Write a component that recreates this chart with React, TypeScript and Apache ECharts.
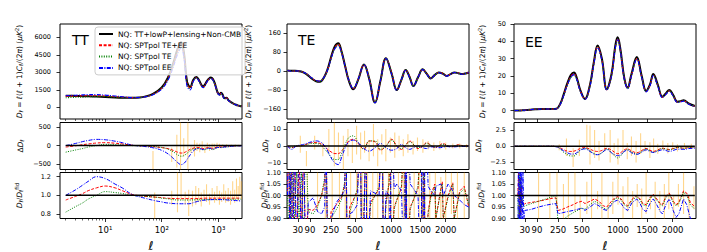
import { useEffect, useRef } from "react";
import * as echarts from "echarts";

// ---------------- legend ----------------
const legendNames = [
  "NQ: TT+lowP+lensing+Non-CMB",
  "NQ: SPTpol TE+EE",
  "NQ: SPTpol TE",
  "NQ: SPTpol EE",
];

// ---------------- TT ----------------
const ellTT = [2,3,4,5,7,10,15,20,30,40,50,70,100,130,160,190,220,250,280,320,360,410,460,500,540,580,630,680,740,800,870,920,980,1050,1120,1180,1250,1320,1400,1520,1600,1700,1850,2000,2200,2400,2600];
const ttFid = [1000,980,960,950,920,890,850,830,820,850,920,1150,1700,2600,3800,5000,5600,4500,2200,1750,2350,2600,2300,1950,1800,1950,2250,2450,2550,2450,2050,1650,1250,1100,1250,1150,850,780,820,600,520,420,320,250,170,120,90];
const ttDeltaRed = [-40,-5,25,45,70,80,65,45,10,-5,-15,-30,-55,-85,-130,-180,-205,-190,-150,-100,-70,-55,-55,-65,-80,-75,-60,-55,-65,-75,-60,-45,-35,-35,-38,-35,-26,-23,-25,-18,-16,-13,-10,-8,-5,-4,-3];
const ttDeltaGreen = [-180,-120,-80,-40,0,35,25,15,0,-8,-10,-25,-50,-100,-170,-250,-290,-270,-210,-140,-95,-80,-85,-100,-115,-110,-90,-80,-95,-110,-90,-70,-52,-50,-55,-50,-38,-35,-37,-27,-23,-18,-13,-10,-7,-5,-4];
const ttDeltaBlue = [0,60,110,140,170,160,120,80,15,-10,-25,-60,-130,-230,-350,-460,-520,-480,-380,-250,-150,-90,-80,-90,-110,-100,-80,-70,-80,-100,-80,-60,-50,-50,-55,-50,-40,-35,-35,-30,-25,-20,-15,-12,-10,-8,-6];

const ellTTRatio = [2,3,4,5,7,10,15,20,30,50,80,100,120,200,300,400,600,1000,1500,2500];
const ttRatioRed = [0.95,0.99,1.02,1.05,1.08,1.1,1.08,1.05,1.01,0.99,0.98,0.975,0.97,0.965,0.965,0.965,0.97,0.97,0.97,0.97];
const ttRatioGreen = [0.82,0.88,0.92,0.96,1.0,1.04,1.03,1.02,1.0,0.99,0.98,0.97,0.965,0.95,0.95,0.952,0.955,0.955,0.958,0.96];
const ttRatioBlue = [1.0,1.06,1.11,1.15,1.2,1.18,1.12,1.08,1.01,0.97,0.94,0.93,0.92,0.91,0.91,0.93,0.95,0.955,0.95,0.94];

const ttMidBars = [[70,-650,-150],[150,-450,-50],[185,-600,300],[215,-660,700],[245,-300,200],[290,-660,700],[330,-200,-20],[380,-300,150],[420,-150,80],[470,-180,60],[520,-120,120],[580,-200,0],[640,-80,80],[700,-150,40],[780,-120,60],[850,-100,50],[950,-80,80],[1050,-50,50],[1200,-60,40],[1400,-40,40],[1700,-30,30],[2000,-30,30],[2300,-20,20]];
const ttBotBars = [[75,0.7,1.03],[150,0.9,1.05],[190,0.82,1.3],[220,0.95,1.3],[260,0.9,1.04],[300,0.78,1.06],[350,0.88,1.05],[400,0.9,1.1],[450,0.93,1.08],[500,0.88,1.03],[560,0.94,1.06],[620,0.93,1.12],[700,0.9,1.02],[780,0.95,1.08],[860,0.92,1.04],[950,0.94,1.1],[1050,0.9,1.05],[1150,0.93,1.03],[1250,0.95,1.12],[1350,0.92,1.05],[1500,0.93,1.08],[1650,0.9,1.05],[1800,0.95,1.15],[1950,0.92,1.06],[2100,0.97,1.18],[2250,0.94,1.1],[2400,1.0,1.2],[2550,0.96,1.15]];

// ---------------- TE ----------------
const ellTE = [2,10,20,30,50,70,100,130,158,190,220,250,285,318,350,390,430,481,540,613,680,762,840,922,1010,1092,1170,1241,1310,1376,1460,1547,1620,1700,1780,1858,1940,2021,2100,2186,2270,2347,2450,2500];
const teFid = [3,2,2,1,-3,-12,-30,-42,-44,-25,10,60,105,118,85,20,-40,-76,-35,29,-30,-132,-40,55,-10,-79,-35,5,-25,-62,-25,8,-10,-30,-15,-5,-10,-20,-12,-5,-8,-12,-8,-5];
const teDeltaRed = [0,-1,-0.3,0,0.3,1,2,2,1.5,0,-2,-3.5,-4.5,-4.5,-3,0,3,4,1.5,-2,3,2.5,-2.5,0,4,0,-2,0.5,3,1,-1.5,0,2,0.5,-1,0,1.5,0.5,-0.5,0,0.8,0.3,0,0.3];
const teDeltaGreen = [0,-0.8,0,0,0.2,0.7,1.5,1.5,0.8,-1.5,-4,-6.5,-8,-8,-4.5,1,5,6,2,-2,3,3,-2,0,3.5,0,-1.5,0.5,2.5,1,-1,0,1.5,0.5,-0.8,0,1,0.3,-0.3,0,0.5,0.2,0,0.2];
const teDeltaBlue = [0,-2,-0.5,0.3,0.8,1.5,2.5,3,2.5,0.5,-3,-7,-10,-11,-7,-1,2.5,3.5,2,-1.5,-3,-1,1.5,-1,-2.5,-1.5,1,-1,-2,-1,0,-1,-1.5,-0.5,-0.5,-1,-0.8,-0.3,-0.5,-0.5,-0.3,-0.3,-0.2,-0.2];

const ellTERatio = [2,4,6,9,13,18,25,35,45,55,65,80,110,140,170,195,205,222,250,300,350,385,398,412,440,480,530,565,585,615,640,650,700,762,820,865,885,922,970,990,1000,1050,1092,1170,1220,1240,1250,1262,1320,1376,1460,1515,1535,1575,1590,1650,1700,1780,1800,1900,1930,1950,2050,2150,2180,2300,2400,2500];
const teRatioRed = [1.0,1.3,0.7,1.25,0.75,1.2,0.8,1.15,0.85,1.2,0.8,0.94,0.935,0.96,1.0,1.06,1.3,0.7,0.93,0.96,0.99,1.05,1.3,0.7,0.95,0.98,1.02,1.3,0.7,0.96,1.3,0.7,0.97,1.0,1.03,1.3,0.7,0.97,1.05,1.3,0.7,0.95,0.98,1.03,1.3,0.7,1.3,0.7,0.95,0.98,1.03,1.3,0.7,1.3,0.7,0.93,1.0,1.05,0.9,1.03,1.06,0.9,1.0,1.055,0.9,1.02,1.04,0.95];
const teRatioGreen = [1.0,0.8,1.2,0.85,1.15,0.9,1.1,0.9,1.1,0.7,1.3,0.93,0.92,0.95,1.0,1.08,1.3,0.7,0.9,0.94,0.98,1.06,1.3,0.7,0.93,0.97,1.03,1.3,0.7,0.95,1.3,0.7,0.96,1.0,1.04,1.3,0.7,0.96,1.06,1.3,0.7,0.94,0.98,1.04,1.3,0.7,1.3,0.7,0.94,0.98,1.04,1.3,0.7,1.3,0.7,0.92,0.99,1.04,0.9,1.02,1.05,0.9,0.99,1.05,0.9,1.01,1.03,0.96];
const teRatioBlue = [1.0,1.4,0.6,1.4,0.6,1.3,0.7,1.3,0.7,1.3,0.7,0.97,0.99,0.93,0.92,0.95,1.3,0.6,0.9,0.97,1.0,1.02,1.4,0.6,0.92,0.93,0.96,1.4,0.6,0.9,1.4,0.6,1.02,1.01,1.0,1.4,0.6,1.02,1.0,0.6,1.4,1.03,1.05,1.02,0.6,1.4,0.6,1.4,1.05,1.03,1.0,0.6,1.4,0.6,1.4,1.04,1.02,1.0,1.04,1.05,1.03,1.0,1.05,1.02,1.0,0.98,0.96,0.95];

const teMidBars = [[40,-4,6],[70,-12,-3],[120,-2,6],[180,-6,2],[230,-4,10],[280,-12,14],[320,-8,8],[370,-14,6],[420,-6,10],[470,-10,4],[520,-5,12],[570,-8,8],[620,-4,9],[680,-9,3],[740,-6,13],[800,-12,4],[860,-5,7],[920,-9,10],[990,-4,5],[1060,-7,8],[1130,-3,6],[1200,-6,4],[1280,-4,7],[1370,-5,3],[1450,-3,5],[1550,-4,4],[1650,-2,3],[1760,-3,2],[1880,-2,3],[2000,-2,2],[2150,-1.5,1.5],[2300,-1.5,1.5],[2450,-1,1]];
const teBotBars = [[30,0.85,1.15],[50,0.8,1.2],[75,0.88,1.2],[140,0.93,1.15],[200,0.8,1.2],[260,0.85,1.2],[330,0.8,1.3],[390,0.9,1.06],[450,0.8,1.15],[520,0.85,1.2],[590,0.8,1.3],[660,0.9,1.2],[730,0.85,1.15],[800,0.9,1.1],[880,0.8,1.2],[960,0.87,1.12],[1040,0.8,1.2],[1120,0.9,1.15],[1200,0.85,1.2],[1300,0.9,1.1],[1390,0.8,1.2],[1480,0.9,1.15],[1570,0.85,1.2],[1680,0.9,1.1],[1790,0.85,1.2],[1900,0.9,1.08],[2000,0.8,1.2],[2120,0.92,1.1],[2250,0.85,1.2],[2400,0.9,1.12]];

// ---------------- EE ----------------
const ellEE = [2,5,10,20,30,50,80,120,160,200,237,270,300,340,375,409,440,480,537,600,650,700,760,830,900,960,995,1040,1100,1156,1220,1313,1400,1480,1550,1615,1700,1790,1860,1930,2010,2100,2170,2230,2350,2480];
const eeFid = [0.05,0.1,0.1,0.2,0.3,0.5,0.8,1.0,1.0,0.9,1.2,4,9,16,20.5,22,19,12,6.8,15,28,37.6,30,12.4,21,38,42.4,35,19,13.3,21,30.9,20,11.4,15,21.2,15,8.1,10,12,9,5.2,5.5,6,4,2.7];
const eeDeltaRed = [0,0,0,0,0,0,0,0,0,0,-0.05,-0.25,-0.5,-0.75,-0.8,-0.75,-0.6,-0.35,-0.2,-0.45,-0.7,-0.8,-0.65,-0.3,-0.6,-1.0,-1.15,-1.0,-0.55,-0.4,-0.7,-1.0,-0.65,-0.35,-0.6,-0.8,-0.55,-0.3,-0.4,-0.5,-0.35,-0.2,-0.25,-0.3,-0.2,-0.15];
const eeDeltaGreen = [0,0,0,0,0,0,0,0,0,0,-0.1,-0.4,-0.9,-1.3,-1.5,-1.5,-1.2,-0.6,-0.3,-0.7,-1.1,-1.3,-1.0,-0.4,-1.0,-1.6,-1.8,-1.5,-0.8,-0.5,-0.9,-1.2,-0.8,-0.4,-0.7,-0.95,-0.65,-0.35,-0.45,-0.55,-0.4,-0.2,-0.25,-0.3,-0.2,-0.15];
const eeDeltaBlue = [0,0,0,0,0,0,0,0,0,0,-0.1,-0.35,-0.7,-1.0,-1.2,-1.2,-1.0,-0.6,-0.4,-0.8,-1.2,-1.3,-1.0,-0.5,-1.0,-1.35,-1.45,-1.3,-0.8,-0.6,-1.0,-1.25,-0.9,-0.55,-0.8,-0.95,-0.75,-0.55,-0.65,-0.8,-0.65,-0.45,-0.45,-0.5,-0.35,-0.3];

const ellEERatio = [8,10,12,14,16,18,20,23,26,30,60,100,150,200,230,240,250,290,340,400,450,500,537,600,660,720,780,830,900,950,995,1050,1100,1156,1234,1313,1370,1420,1480,1550,1615,1680,1750,1790,1870,1930,2010,2070,2130,2230,2300,2380,2480];
const eeRatioRed = [1.0,1.1,0.9,1.08,0.92,1.04,0.96,0.97,0.96,0.965,0.97,0.975,0.982,0.988,0.99,0.96,0.935,0.94,0.95,0.96,0.97,0.975,0.965,0.975,0.985,0.975,0.955,0.95,0.975,0.99,0.995,0.985,0.965,0.955,0.985,1.0,0.985,0.965,0.96,0.99,1.005,0.985,0.965,0.96,1.0,1.01,0.975,0.96,0.97,1.02,1.01,0.97,0.95];
const eeRatioGreen = [1.0,0.85,1.12,0.9,1.08,0.95,1.0,0.96,0.95,0.955,0.965,0.975,0.985,0.995,1.0,0.95,0.88,0.89,0.91,0.925,0.935,0.945,0.94,0.96,0.975,0.965,0.945,0.94,0.965,0.985,0.99,0.98,0.96,0.95,0.98,0.995,0.98,0.96,0.955,0.985,1.0,0.98,0.96,0.955,0.995,1.005,0.97,0.955,0.965,1.015,1.0,0.96,0.94];
const eeRatioBlue = [0.7,1.3,0.7,1.3,0.75,1.25,0.8,1.1,0.9,0.935,0.94,0.95,0.958,0.963,0.965,0.94,0.92,0.925,0.93,0.935,0.94,0.945,0.935,0.95,0.965,0.955,0.94,0.935,0.96,0.975,0.98,0.965,0.945,0.935,0.97,0.985,0.965,0.94,0.93,0.965,0.985,0.96,0.93,0.92,0.965,0.985,0.935,0.905,0.92,0.985,0.96,0.9,0.89];

const eeMidBars = [[260,-0.6,0.3],[330,-1.5,1.2],[400,-3.2,-0.3],[470,-1.5,1.0],[560,-0.5,3.3],[600,-2.8,3.2],[660,-1.8,2.5],[720,-2.2,0.8],[800,-0.8,2.0],[880,-2.5,2.5],[940,-1.5,0.5],[1000,-2.8,1.2],[1080,-1.0,2.5],[1150,-2.0,0.5],[1220,-1.5,1.5],[1300,-2.5,0.8],[1380,-1.2,2.0],[1460,-0.8,0.8],[1550,-1.8,0.6],[1620,-1.0,1.2],[1700,-1.2,0.4],[1800,-0.6,0.9],[1900,-1.1,0.5],[2000,-0.5,0.6],[2100,-0.8,0.3],[2250,-0.5,0.5],[2400,-0.4,0.4]];
const eeBotBars = [[100,0.9,1.2],[180,0.85,1.1],[240,0.95,1.2],[300,0.9,1.05],[350,0.85,1.1],[420,0.93,1.2],[480,0.88,1.0],[560,0.92,1.06],[620,0.9,1.1],[700,0.94,1.02],[760,0.88,1.1],[850,0.9,1.0],[920,0.92,1.06],[1000,0.96,1.1],[1080,0.9,1.04],[1160,0.93,1.08],[1240,0.9,1.02],[1320,0.95,1.05],[1400,0.88,1.03],[1480,0.92,1.1],[1560,0.94,1.0],[1650,0.9,1.06],[1740,0.93,1.02],[1830,0.88,1.05],[1920,0.94,1.1],[2020,0.9,1.0],[2120,0.95,1.05],[2230,0.92,1.1],[2350,0.9,1.0],[2460,0.94,1.04]];

// ---------------- ticks ----------------
const ttMajorEll = [10, 100, 1000];
const ttMajorLabels = ["10¹", "10²", "10³"];
const ttMinorEll = [2,3,4,5,6,7,8,9,20,30,40,50,60,70,80,90,200,300,400,500,600,700,800,900,2000];
const polTickEll = [30, 90, 250, 500, 1000, 1500, 2000];
const ttTopTicks = [0, 1500, 3000, 4500, 6000];
const ttMidTicks = [-500, 0, 500];
const ttBotTicks = [0.8, 1.0, 1.2];
const teTopTicks = [-160, -80, 0, 80, 160];
const teMidTicks = [-10, 0, 10];
const ratioTicks = [0.9, 0.95, 1.0, 1.05, 1.1];
const eeTopTicks = [0, 10, 20, 30, 40, 50];
const eeMidTicks = [-2.5, 0, 2.5];

// ---------------- layout / style ----------------
const FONT = "DejaVu Sans";
const RED = "#ff0000", GREEN = "#008000", BLUE = "#0000ff", ORANGE = "#ffa500";
const gridLeft = [60, 287, 514];
const gridTop = [24, 122.5, 172.5];
const gridH = [95, 47, 46];
const W = 182;
const fxs = [(l: number) => Math.log10(l), (l: number) => Math.pow(l, 0.6), (l: number) => Math.pow(l, 0.6)];
const xMin = [0.2, 1.23, 1.23];
const xMax = [3.42, 109.5, 109.5];
const yMin = [-1000, -654, 0.752, -201, -13.9, 0.9, -4.8, -3.58, 0.9];
const yMax = [7150, 632, 1.245, 199, 13.9, 1.1, 50, 3.66, 1.1];
const yTicks = [ttTopTicks, ttMidTicks, ttBotTicks, teTopTicks, teMidTicks, ratioTicks, eeTopTicks, eeMidTicks, ratioTicks];
const yDec = [0, 0, 1, 0, 0, 2, 0, 1, 2];
const yMargin = [9, 6, 8];

const DASH = [3, 1.6];
const DOT = [1, 1.4];
const DASHDOT = [4, 1.4, 1, 1.4];

function pts(ls: number[], vs: number[], fx: (l: number) => number) {
  return ls.map((l, i) => [fx(l), vs[i]]);
}
function add(a: number[], b: number[]) {
  return a.map((v, i) => v + b[i]);
}

function line(g: number, data: number[][], color: string, width: number, type: any, smooth: number | boolean, z: number, name?: string) {
  const s: any = {
    type: "line", xAxisIndex: g, yAxisIndex: g, data, symbol: "none", showSymbol: false,
    smooth, clip: true, z, silent: true, animation: false,
    lineStyle: { color, width, type }, itemStyle: { color },
    emphasis: { disabled: true },
  };
  if (name) s.name = name;
  return s;
}

function bars(g: number, list: number[][], fx: (l: number) => number) {
  return {
    type: "custom", xAxisIndex: g, yAxisIndex: g, clip: true, silent: true, z: 1,
    data: list.map((b) => [fx(b[0]), b[1], b[2]]),
    encode: { x: 0, y: [1, 2] },
    renderItem: (_p: any, api: any) => {
      const a = api.coord([api.value(0), api.value(1)]);
      const b = api.coord([api.value(0), api.value(2)]);
      return {
        type: "line",
        shape: { x1: a[0], y1: a[1], x2: b[0], y2: b[1] },
        style: { stroke: ORANGE, lineWidth: 1.1, opacity: 0.45 },
      };
    },
  };
}

const rich: any = {
  i: { fontFamily: FONT, fontStyle: "italic", fontSize: 7.5, lineHeight: 10 },
  n: { fontFamily: FONT, fontSize: 7.5, lineHeight: 10 },
  s: { fontFamily: FONT, fontStyle: "italic", fontSize: 5.5, lineHeight: 6, verticalAlign: "bottom" },
  p: { fontFamily: FONT, fontSize: 5.5, lineHeight: 6, verticalAlign: "top" },
};
const nameTop = "{i|D}{s|ℓ}{n| = }{i|ℓ}{n|(}{i|ℓ}{n| + 1)}{i|C}{s|ℓ}{n|/(2}{i|π}{n|) (}{i|μK}{p|2}{n|)}";
const nameMid = "{n|Δ}{i|D}{s|ℓ}";
const nameBot = "{i|D}{s|ℓ}{n|/}{i|D}{s|ℓ}{p|fid}";

function buildOption() {
  const grid: any[] = [];
  const xAxis: any[] = [];
  const yAxis: any[] = [];
  for (let c = 0; c < 3; c++) {
    for (let r = 0; r < 3; r++) {
      const g = c * 3 + r;
      grid.push({
        left: gridLeft[c], top: gridTop[r], width: W, height: gridH[r],
        show: true, borderColor: "#000", borderWidth: 1, backgroundColor: "transparent",
      });
      const xt = c === 0 ? ttMajorEll.map(fxs[0]) : polTickEll.map(fxs[1]);
      xAxis.push({
        type: "value", gridIndex: g, min: xMin[c], max: xMax[c], position: "bottom",
        axisLine: { show: false, onZero: false }, splitLine: { show: false },
        axisTick: { show: true, inside: false, length: 3.5, lineStyle: { color: "#000", width: 0.8 }, customValues: xt },
        axisLabel: {
          show: r === 2, customValues: xt, fontSize: 8.5, fontFamily: FONT, color: "#000", margin: 7,
          formatter: (v: number) => {
            if (c === 0) {
              const k = ttMajorEll.findIndex((l) => Math.abs(Math.log10(l) - v) < 1e-6);
              return k >= 0 ? ttMajorLabels[k] : "";
            }
            const k = polTickEll.findIndex((l) => Math.abs(Math.pow(l, 0.6) - v) < 1e-6);
            return k >= 0 ? String(polTickEll[k]) : "";
          },
        },
      });
      yAxis.push({
        type: "value", gridIndex: g, min: yMin[g], max: yMax[g], position: "left",
        axisLine: { show: false, onZero: false }, splitLine: { show: false },
        axisTick: { show: true, inside: false, length: 3.5, lineStyle: { color: "#000", width: 0.8 }, customValues: yTicks[g] },
        axisLabel: {
          customValues: yTicks[g], fontSize: 6.5, fontFamily: FONT, color: "#000", margin: yMargin[c],
          formatter: (v: number) => v.toFixed(yDec[g]).replace("-", "\u2212"),
        },
      });
    }
  }
  for (let r = 0; r < 3; r++) {
    xAxis.push({
      type: "value", gridIndex: r, min: xMin[0], max: xMax[0], position: "bottom",
      axisLine: { show: false, onZero: false }, splitLine: { show: false },
      axisTick: { show: true, inside: false, length: 2, lineStyle: { color: "#000", width: 0.6 }, customValues: ttMinorEll.map(fxs[0]) },
      axisLabel: { show: false },
    });
  }

  const series: any[] = [];
  // ---- TT ----
  const fT = fxs[0];
  series.push(line(0, pts(ellTT, ttFid, fT), "#000", 2, "solid", 0.4, 2, legendNames[0]));
  series.push(line(0, pts(ellTT, add(ttFid, ttDeltaRed), fT), RED, 1.1, DASH, 0.4, 3, legendNames[1]));
  series.push(line(0, pts(ellTT, add(ttFid, ttDeltaGreen), fT), GREEN, 1.1, DOT, 0.4, 3, legendNames[2]));
  series.push(line(0, pts(ellTT, add(ttFid, ttDeltaBlue), fT), BLUE, 1.1, DASHDOT, 0.4, 3, legendNames[3]));
  series.push(bars(1, ttMidBars, fT));
  series.push(line(1, pts(ellTT, ttDeltaRed, fT), RED, 1, DASH, 0.4, 3));
  series.push(line(1, pts(ellTT, ttDeltaGreen, fT), GREEN, 1, DOT, 0.4, 3));
  series.push(line(1, pts(ellTT, ttDeltaBlue, fT), BLUE, 1, DASHDOT, 0.4, 3));
  series.push(line(1, pts(ellTT, ttFid.map(() => 0), fT), "#000", 1.5, "solid", false, 4));
  series.push(bars(2, ttBotBars, fT));
  series.push(line(2, pts(ellTTRatio, ttRatioRed, fT), RED, 1, DASH, 0.4, 3));
  series.push(line(2, pts(ellTTRatio, ttRatioGreen, fT), GREEN, 1, DOT, 0.4, 3));
  series.push(line(2, pts(ellTTRatio, ttRatioBlue, fT), BLUE, 1, DASHDOT, 0.4, 3));
  series.push(line(2, pts(ellTT, ttFid.map(() => 1), fT), "#000", 1.5, "solid", false, 4));
  // ---- TE ----
  const fP = fxs[1];
  series.push(line(3, pts(ellTE, teFid, fP), "#000", 2, "solid", 0.4, 2));
  series.push(line(3, pts(ellTE, add(teFid, teDeltaRed), fP), RED, 1.1, DASH, 0.4, 3));
  series.push(line(3, pts(ellTE, add(teFid, teDeltaGreen), fP), GREEN, 1.1, DOT, 0.4, 3));
  series.push(line(3, pts(ellTE, add(teFid, teDeltaBlue), fP), BLUE, 1.1, DASHDOT, 0.4, 3));
  series.push(bars(4, teMidBars, fP));
  series.push(line(4, pts(ellTE, teDeltaRed, fP), RED, 1, DASH, 0.4, 3));
  series.push(line(4, pts(ellTE, teDeltaGreen, fP), GREEN, 1, DOT, 0.4, 3));
  series.push(line(4, pts(ellTE, teDeltaBlue, fP), BLUE, 1, DASHDOT, 0.4, 3));
  series.push(line(4, pts(ellTE, teFid.map(() => 0), fP), "#000", 1.5, "solid", false, 4));
  series.push(bars(5, teBotBars, fP));
  series.push(line(5, pts(ellTERatio, teRatioRed, fP), RED, 1, DASH, false, 3));
  series.push(line(5, pts(ellTERatio, teRatioGreen, fP), GREEN, 1, DOT, false, 3));
  series.push(line(5, pts(ellTERatio, teRatioBlue, fP), BLUE, 1, DASHDOT, false, 3));
  series.push(line(5, pts(ellTE, teFid.map(() => 1), fP), "#000", 1.5, "solid", false, 4));
  // ---- EE ----
  series.push(line(6, pts(ellEE, eeFid, fP), "#000", 2, "solid", 0.4, 2));
  series.push(line(6, pts(ellEE, add(eeFid, eeDeltaRed), fP), RED, 1.1, DASH, 0.4, 3));
  series.push(line(6, pts(ellEE, add(eeFid, eeDeltaGreen), fP), GREEN, 1.1, DOT, 0.4, 3));
  series.push(line(6, pts(ellEE, add(eeFid, eeDeltaBlue), fP), BLUE, 1.1, DASHDOT, 0.4, 3));
  series.push(bars(7, eeMidBars, fP));
  series.push(line(7, pts(ellEE, eeDeltaRed, fP), RED, 1, DASH, 0.4, 3));
  series.push(line(7, pts(ellEE, eeDeltaGreen, fP), GREEN, 1, DOT, 0.4, 3));
  series.push(line(7, pts(ellEE, eeDeltaBlue, fP), BLUE, 1, DASHDOT, 0.4, 3));
  series.push(line(7, pts(ellEE, eeFid.map(() => 0), fP), "#000", 1.5, "solid", false, 4));
  series.push(bars(8, eeBotBars, fP));
  series.push(line(8, pts(ellEERatio, eeRatioRed, fP), RED, 1, DASH, false, 3));
  series.push(line(8, pts(ellEERatio, eeRatioGreen, fP), GREEN, 1, DOT, false, 3));
  series.push(line(8, pts(ellEERatio, eeRatioBlue, fP), BLUE, 1, DASHDOT, false, 3));
  series.push(line(8, pts(ellEE, eeFid.map(() => 1), fP), "#000", 1.5, "solid", false, 4));

  const graphic: any[] = [];
  const titles = [["TT", 72, 40], ["TE", 298, 40], ["EE", 525, 42]];
  titles.forEach(([t, x, y]) =>
    graphic.push({ type: "text", x, y, z: 10, style: { text: t, font: `14px "${FONT}"`, fill: "#000", textAlign: "left", textVerticalAlign: "middle" } })
  );
  const nameX = [[19, 20, 19], [248, 265, 264], [482, 478, 481]];
  const names = [nameTop, nameMid, nameBot];
  for (let c = 0; c < 3; c++) {
    for (let r = 0; r < 3; r++) {
      graphic.push({
        type: "text", x: nameX[c][r], y: gridTop[r] + gridH[r] / 2, rotation: Math.PI / 2, z: 10,
        style: { text: names[r], rich, fill: "#000", textAlign: "center", textVerticalAlign: "middle" },
      });
    }
    graphic.push({
      type: "text", x: gridLeft[c] + W / 2, y: 246, z: 10,
      style: { text: "ℓ", font: `italic 12px "${FONT}"`, fill: "#000", textAlign: "center", textVerticalAlign: "middle" },
    });
  }

  return {
    animation: false,
    backgroundColor: "#fff",
    textStyle: { fontFamily: FONT },
    grid, xAxis, yAxis, series, graphic,
    legend: {
      show: true, data: legendNames, orient: "vertical", left: 95, top: 27,
      itemWidth: 14, itemHeight: 7, itemGap: 3.3, padding: [3, 4, 3, 3],
      borderColor: "#cccccc", borderWidth: 1, borderRadius: 3,
      backgroundColor: "rgba(255,255,255,0.8)", selectedMode: false,
      itemStyle: { opacity: 0 },
      textStyle: { fontSize: 7.5, fontFamily: FONT, color: "#000" },
      z: 8,
    },
  };
}

export default function App() {
  const ref = useRef<HTMLDivElement>(null);
  useEffect(() => {
    document.body.style.margin = "0";
    const chart = echarts.init(ref.current as HTMLDivElement, undefined, { renderer: "svg" });
    chart.setOption(buildOption() as any);
    return () => chart.dispose();
  }, []);
  return <div ref={ref} style={{ width: 707, height: 252 }} />;
}
